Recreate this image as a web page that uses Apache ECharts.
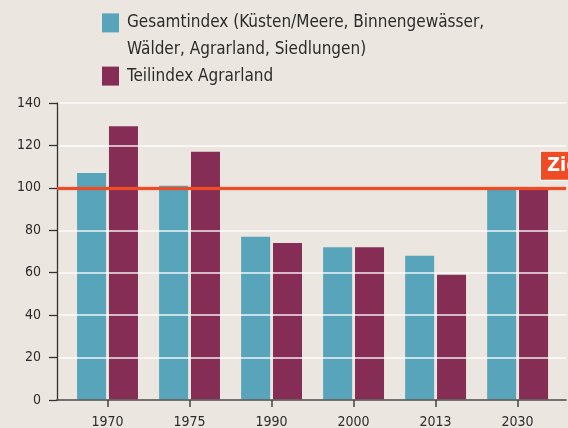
<!DOCTYPE html>
<html>
<head>
<meta charset="utf-8">
<script src="https://cdn.jsdelivr.net/npm/echarts@6/dist/echarts.min.js"></script>
<style>
  html, body { margin: 0; padding: 0; background: #ebe7e0; }
  #chart { width: 568px; height: 428px; }
</style>
</head>
<body>
<div id="chart"></div>
<script>
// ---- data ----
const years = ['1970', '1975', '1990', '2000', '2013', '2030'];
const gesamtindex = [107, 101, 77, 72, 68, 100];
const teilindexAgrarland = [129, 117, 74, 72, 59, 100];
const zielWert = 100;
const yTicks = [0, 20, 40, 60, 80, 100, 120, 140];
const seriesNames = [
  'Gesamtindex (Küsten/Meere, Binnengewässer,\nWälder, Agrarland, Siedlungen)',
  'Teilindex Agrarland'
];

const FONT = "'DejaVu Sans Condensed', 'Roboto', sans-serif";
const idx = years.map((_, i) => i);

const chart = echarts.init(document.getElementById('chart'), null, { renderer: 'canvas' });

chart.setOption({
  backgroundColor: '#ebe7e0',
  animation: false,
  textStyle: { fontFamily: FONT },
  legend: {
    orient: 'vertical',
    left: 102,
    top: -17,
    padding: 0,
    itemGap: 0,
    itemWidth: 17,
    itemHeight: 19,
    icon: 'rect',
    selectedMode: false,
    // multi-line first entry: a leading blank line keeps the first text line level with the swatch
    formatter: name => (name.indexOf('\n') >= 0 ? '\u00a0\n' + name : name),
    textStyle: {
      fontFamily: FONT,
      fontSize: 17,
      lineHeight: 26.6,
      color: '#2b2b2b',
      padding: [0, 0, 0, 3]
    },
    data: seriesNames
  },
  grid: { left: 57, right: 2, top: 103, bottom: 28, containLabel: false, outerBoundsMode: 'none' },
  xAxis: {
    type: 'value',
    min: -0.616,
    max: 5.59,
    z: 4,
    splitLine: { show: false },
    axisLine: { show: true, onZero: false, lineStyle: { color: '#444', width: 1.5 } },
    axisTick: {
      show: true, length: 7, customValues: idx,
      lineStyle: { color: '#444', width: 1.5 }
    },
    axisLabel: {
      customValues: idx,
      formatter: v => years[Math.round(v)],
      fontSize: 14,
      color: '#2b2b2b',
      fontFamily: FONT,
      margin: 15
    }
  },
  yAxis: {
    type: 'value',
    min: 0,
    max: 140,
    interval: 20,
    z: 3,
    axisLine: { show: true, onZero: false, lineStyle: { color: '#333', width: 1.3 } },
    axisTick: { show: true, length: 8, lineStyle: { color: '#333', width: 1.3 } },
    axisLabel: {
      fontSize: 14,
      color: '#2b2b2b',
      fontFamily: FONT,
      margin: 16,
      formatter: v => (yTicks.indexOf(v) >= 0 ? String(v) : '')
    },
    splitLine: { show: true, lineStyle: { color: 'rgba(255,255,255,0.9)', width: 1.5 } }
  },
  series: [
    {
      name: seriesNames[0],
      type: 'bar',
      barWidth: 29,
      barGap: '10%',
      itemStyle: { color: '#57a4bb' },
      data: idx.map(i => [i, gesamtindex[i]]),
      markLine: {
        silent: true,
        symbol: 'none',
        z: 10,
        lineStyle: {
          color: '#ef4b24', width: 3, type: 'solid',
          shadowColor: 'rgba(239,75,36,0.45)', shadowBlur: 2
        },
        label: {
          show: true,
          position: 'insideEndTop',
          align: 'left',
          distance: [25, 8],
          formatter: 'Ziel',
          color: '#fff',
          fontWeight: 'bold',
          fontSize: 20,
          lineHeight: 20,
          fontFamily: FONT,
          backgroundColor: '#ef4b24',
          borderColor: '#fff',
          borderWidth: 1,
          padding: [4, 5, 4, 6]
        },
        data: [{ yAxis: zielWert }]
      }
    },
    {
      name: seriesNames[1],
      type: 'bar',
      barWidth: 29,
      barGap: '10%',
      itemStyle: { color: '#852d55' },
      data: idx.map(i => [i, teilindexAgrarland[i]])
    }
  ]
});
</script>
</body>
</html>
